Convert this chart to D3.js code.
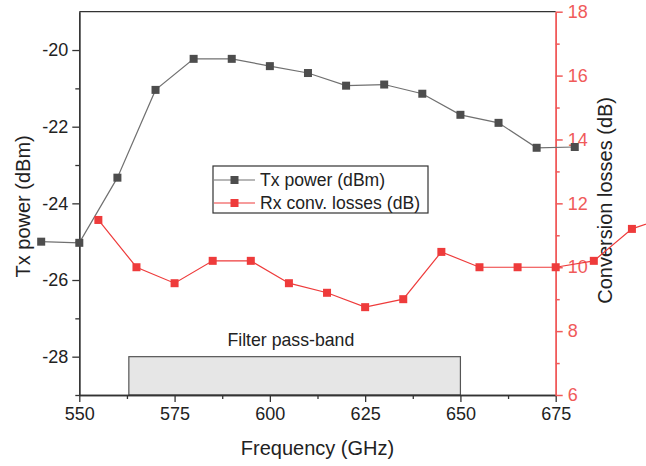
<!DOCTYPE html>
<html><head><meta charset="utf-8">
<script src="https://cdn.jsdelivr.net/npm/d3@7"></script>
<style>
html,body{margin:0;padding:0;background:#fff;}
svg{display:block;font-family:"Liberation Sans",Arial,sans-serif;}
</style></head>
<body>
<svg id="chart" width="646" height="466"></svg>
<script>
// ---- data ----
const txFreq = [540,550,560,570,580,590,600,610,620,630,640,650,660,670,680];
const txPower = [-25.0,-25.03,-23.33,-21.04,-20.23,-20.23,-20.42,-20.6,-20.93,-20.9,-21.14,-21.69,-21.9,-22.55,-22.53];
const rxFreq = [555,565,575,585,595,605,615,625,635,645,655,665,675,685,695,705];
const rxLoss = [11.48,10.0,9.5,10.2,10.2,9.5,9.2,8.75,9.0,10.48,10.0,10.0,10.0,10.2,11.2,11.6];
const xTicks = [550,575,600,625,650,675];
const yLeftTicks = [-20,-22,-24,-26,-28];
const yRightTicks = [6,8,10,12,14,16,18];
const passBand = [563,650];
const passBandTop = -28;
const seriesNames = ["Tx power (dBm)","Rx conv. losses (dB)"];

// ---- layout ----
const L=79.3, R=555.7, T=11.7, B=395;
const svg=d3.select("#chart");
const x=d3.scaleLinear().domain([550,675]).range([L,R]);
const yL=d3.scaleLinear().domain([-29,-19]).range([B,T]);
const yR=d3.scaleLinear().domain([6,18]).range([B,T]);
const dark="#333", gray="#4d4d4d", grayLine="#707070", red="#ee3b3b", redAxis="#f05a5a";
const fmt=d=>String(d);

// top frame
svg.append("line").attr("x1",L).attr("x2",R).attr("y1",T).attr("y2",T).attr("stroke",dark).attr("stroke-width",1.3);

// pass band
svg.append("rect").attr("x",x(passBand[0])).attr("y",yL(passBandTop))
  .attr("width",x(passBand[1])-x(passBand[0])).attr("height",B-yL(passBandTop))
  .attr("fill","#e6e6e6").attr("stroke","#555").attr("stroke-width",1.2);
svg.append("text").attr("x",x(605.5)).attr("y",346).attr("text-anchor","middle")
  .attr("font-size",17.7).attr("fill","#222").text("Filter pass-band");

// bottom axis
const gx=svg.append("g").attr("transform",`translate(0,${B})`);
gx.call(d3.axisBottom(x).tickValues(xTicks).tickFormat(fmt).tickSize(7).tickSizeOuter(0).tickPadding(5))
gx.append("g").call(d3.axisBottom(x).tickValues(d3.range(562.5,675,25)).tickSize(4).tickFormat("").tickSizeOuter(0));
gx.selectAll("path,line").attr("stroke",dark).attr("stroke-width",1.3);
gx.selectAll("text").attr("font-size",18).attr("fill","#222").attr("font-family","Liberation Sans, Arial, sans-serif");

// left axis
const gl=svg.append("g").attr("transform",`translate(${L},0)`);
gl.call(d3.axisLeft(yL).tickValues(yLeftTicks).tickFormat(fmt).tickSize(7).tickSizeOuter(0).tickPadding(4));
gl.append("g").call(d3.axisLeft(yL).tickValues([-21,-23,-25,-27,-29]).tickSize(4).tickFormat("").tickSizeOuter(0));
gl.selectAll("path,line").attr("stroke",dark).attr("stroke-width",1.3);
gl.selectAll("text").attr("font-size",18).attr("fill","#222").attr("font-family","Liberation Sans, Arial, sans-serif");

// right axis
const gr=svg.append("g").attr("transform",`translate(${R},0)`);
gr.call(d3.axisRight(yR).tickValues(yRightTicks).tickFormat(fmt).tickSize(7).tickSizeOuter(0).tickPadding(5));
gr.append("g").call(d3.axisRight(yR).tickValues([7,9,11,13,15,17]).tickSize(4).tickFormat("").tickSizeOuter(0));
gr.selectAll("path,line").attr("stroke",redAxis).attr("stroke-width",1.5);
gr.selectAll("text").attr("font-size",18).attr("fill",redAxis).attr("font-family","Liberation Sans, Arial, sans-serif");

// axis titles
svg.append("text").attr("x",(L+R)/2).attr("y",455).attr("text-anchor","middle")
  .attr("font-size",20).attr("fill","#222").text("Frequency (GHz)");
svg.append("text").attr("transform",`translate(23,${(T+B)/2+3}) rotate(-90)`).attr("text-anchor","middle")
  .attr("dy","0.35em").attr("font-size",20).attr("fill","#222").text("Tx power (dBm)");
svg.append("text").attr("transform",`translate(605,${(T+B)/2-3}) rotate(-90)`).attr("text-anchor","middle")
  .attr("dy","0.35em").attr("font-size",20).attr("fill","#222").text("Conversion losses (dB)");

// series
const txData=txFreq.map((f,i)=>[f,txPower[i]]);
const rxData=rxFreq.map((f,i)=>[f,rxLoss[i]]);
svg.append("path").datum(txData).attr("fill","none").attr("stroke",grayLine).attr("stroke-width",1.2)
  .attr("d",d3.line().x(d=>x(d[0])).y(d=>yL(d[1])));
svg.append("path").datum(rxData).attr("fill","none").attr("stroke",red).attr("stroke-width",1.2)
  .attr("d",d3.line().x(d=>x(d[0])).y(d=>yR(d[1])));
const ms=8;
svg.selectAll(".txm").data(txData).enter().append("rect")
  .attr("x",d=>x(d[0])-ms/2).attr("y",d=>yL(d[1])-ms/2).attr("width",ms).attr("height",ms).attr("fill",gray);
svg.selectAll(".rxm").data(rxData).enter().append("rect")
  .attr("x",d=>x(d[0])-ms/2).attr("y",d=>yR(d[1])-ms/2).attr("width",ms).attr("height",ms).attr("fill",red);

// legend
const lg=svg.append("g");
lg.append("rect").attr("x",213).attr("y",166).attr("width",215).attr("height",47)
  .attr("fill","#fff").attr("stroke",dark).attr("stroke-width",1.2);
const rows=[{n:seriesNames[0],c:gray,lc:grayLine,y:180},{n:seriesNames[1],c:red,lc:red,y:203}];
rows.forEach(r=>{
  lg.append("line").attr("x1",214).attr("x2",255).attr("y1",r.y).attr("y2",r.y).attr("stroke",r.lc).attr("stroke-width",1.2);
  lg.append("rect").attr("x",234.5-ms/2).attr("y",r.y-ms/2).attr("width",ms).attr("height",ms).attr("fill",r.c);
  lg.append("text").attr("x",260).attr("y",r.y).attr("dy","0.35em").attr("font-size",17.6).attr("fill","#222").text(r.n);
});
</script>
</body></html>
